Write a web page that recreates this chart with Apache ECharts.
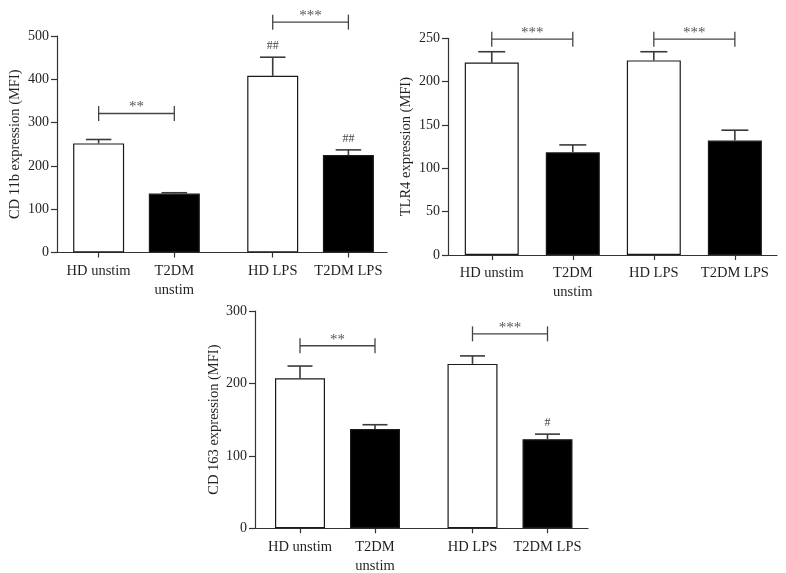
<!DOCTYPE html>
<html><head><meta charset="utf-8">
<script src="https://cdn.jsdelivr.net/npm/echarts@6/dist/echarts.min.js"></script>
<style>html,body{margin:0;padding:0;background:#fff}#c{width:786px;height:573px}</style>
</head><body><div id="c"></div>
<script>
// ---------- DATA ----------
const categories = ['HD unstim', 'T2DM\nunstim', 'HD LPS', 'T2DM LPS'];
const isDiabetic = [false, true, false, true];

// Panel A: CD 11b
const cd11bTitle = 'CD 11b expression (MFI)';
const cd11bMean = [252, 136, 408, 225];
const cd11bSem = [9, 2, 43, 12];
const cd11bHash = ['', '', '##', '##'];
const cd11bSigPairs = [[0, 1], [2, 3]];
const cd11bSigY = [321, 532];
const cd11bSigText = ['**', '***'];
const cd11bTicks = [0, 100, 200, 300, 400, 500];

// Panel B: TLR4
const tlr4Title = 'TLR4 expression (MFI)';
const tlr4Mean = [222, 118.5, 224.5, 132];
const tlr4Sem = [12.5, 8.5, 10, 12];
const tlr4Hash = ['', '', '', ''];
const tlr4SigPairs = [[0, 1], [2, 3]];
const tlr4SigY = [249, 249];
const tlr4SigText = ['***', '***'];
const tlr4Ticks = [0, 50, 100, 150, 200, 250];

// Panel C: CD 163
const cd163Title = 'CD 163 expression (MFI)';
const cd163Mean = [207, 137, 227, 123];
const cd163Sem = [17, 6, 11, 7];
const cd163Hash = ['', '', '', '#'];
const cd163SigPairs = [[0, 1], [2, 3]];
const cd163SigY = [252, 268.5];
const cd163SigText = ['**', '***'];
const cd163Ticks = [0, 100, 200, 300];

// ---------- LAYOUT ----------
const slotsGapped = [1, 2, 3.3, 4.3];
const slotsEven = [1, 2, 3, 4];
const FONT = '"Liberation Serif", "DejaVu Serif", serif';
const INK = '#231f20';
const LINE = '#333';

const panels = [
  {title: cd11bTitle, mean: cd11bMean, sem: cd11bSem, hash: cd11bHash, pairs: cd11bSigPairs, sigY: cd11bSigY, sigText: cd11bSigText, ticks: cd11bTicks,
   slots: slotsGapped, xmin: 0.45, xmax: 4.81, grid: {left: 57, top: 36, width: 330, height: 216.5}, barWidth: 51, nameGap: 34},
  {title: tlr4Title, mean: tlr4Mean, sem: tlr4Sem, hash: tlr4Hash, pairs: tlr4SigPairs, sigY: tlr4SigY, sigText: tlr4SigText, ticks: tlr4Ticks,
   slots: slotsEven, xmin: 0.46, xmax: 4.52, grid: {left: 448, top: 38.3, width: 329, height: 216.7}, barWidth: 54, nameGap: 34},
  {title: cd163Title, mean: cd163Mean, sem: cd163Sem, hash: cd163Hash, pairs: cd163SigPairs, sigY: cd163SigY, sigText: cd163SigText, ticks: cd163Ticks,
   slots: slotsGapped, xmin: 0.4, xmax: 4.84, grid: {left: 255, top: 311, width: 333, height: 217.3}, barWidth: 50, nameGap: 32}
];

const grids = [], xAxes = [], yAxes = [], series = [];

panels.forEach((p, i) => {
  grids.push(Object.assign({outerBoundsMode: 'none', containLabel: false}, p.grid));
  const ticks = p.ticks;
  xAxes.push({
    type: 'value', gridIndex: i, min: p.xmin, max: p.xmax,
    splitLine: {show: false},
    axisLine: {show: true, onZero: false, lineStyle: {color: LINE, width: 1.2}},
    axisTick: {show: true, customValues: p.slots, length: 5, lineStyle: {color: LINE, width: 1.2}},
    axisLabel: {
      show: true, customValues: p.slots, margin: 9, lineHeight: 19,
      fontFamily: FONT, fontSize: 14.5, color: INK,
      formatter: (v) => {
        let best = 0;
        p.slots.forEach((s, k) => { if (Math.abs(s - v) < Math.abs(p.slots[best] - v)) best = k; });
        return categories[best];
      }
    }
  });
  yAxes.push({
    type: 'value', gridIndex: i, min: ticks[0], max: ticks[ticks.length - 1],
    interval: ticks[1] - ticks[0],
    splitLine: {show: false},
    axisLine: {show: true, lineStyle: {color: LINE, width: 1.2}},
    axisTick: {show: true, length: 6, lineStyle: {color: LINE, width: 1.2}},
    axisLabel: {margin: 8, fontFamily: FONT, fontSize: 14, color: INK},
    name: p.title, nameLocation: 'middle', nameGap: p.nameGap,
    nameTextStyle: {fontFamily: FONT, fontSize: 14.5, color: INK}
  });

  // bars
  series.push({
    type: 'bar', xAxisIndex: i, yAxisIndex: i, barWidth: p.barWidth,
    animation: false, z: 2,
    itemStyle: {borderColor: '#1a1a1a', borderWidth: 1.2},
    data: p.mean.map((v, k) => ({value: [p.slots[k], v], itemStyle: {color: isDiabetic[k] ? '#000' : '#fff'}}))
  });

  // error bars (upper only) with # annotations
  const hashes = p.hash;
  const capHalf = p.barWidth / 4;
  series.push({
    type: 'custom', xAxisIndex: i, yAxisIndex: i, animation: false, clip: false, z: 3,
    data: p.mean.map((v, k) => [p.slots[k], v, p.sem[k]]),
    renderItem: (params, api) => {
      const x = api.value(0), m = api.value(1), e = api.value(2);
      const b = api.coord([x, m]);
      const t = api.coord([x, m + e]);
      const st = {stroke: '#3a3a3a', lineWidth: 1.6};
      const ch = [
        {type: 'line', shape: {x1: b[0], y1: b[1], x2: t[0], y2: t[1]}, style: st},
        {type: 'line', shape: {x1: t[0] - capHalf, y1: t[1], x2: t[0] + capHalf, y2: t[1]}, style: st}
      ];
      const h = hashes[params.dataIndex];
      if (h) {
        ch.push({type: 'text', x: t[0], y: t[1] - 11,
          style: {text: h, fill: '#444', font: '12px ' + FONT, align: 'center', verticalAlign: 'middle'}});
      }
      return {type: 'group', children: ch};
    }
  });

  // significance brackets
  const texts = p.sigText;
  series.push({
    type: 'custom', xAxisIndex: i, yAxisIndex: i, animation: false, clip: false, z: 3,
    data: p.pairs.map((pr, k) => [p.slots[pr[0]], p.slots[pr[1]], p.sigY[k]]),
    renderItem: (params, api) => {
      const a = api.coord([api.value(0), api.value(2)]);
      const b = api.coord([api.value(1), api.value(2)]);
      const st = {stroke: '#444', lineWidth: 1.3};
      const hh = 7.5;
      return {type: 'group', children: [
        {type: 'line', shape: {x1: a[0], y1: a[1], x2: b[0], y2: b[1]}, style: st},
        {type: 'line', shape: {x1: a[0], y1: a[1] - hh, x2: a[0], y2: a[1] + hh}, style: st},
        {type: 'line', shape: {x1: b[0], y1: b[1] - hh, x2: b[0], y2: b[1] + hh}, style: st},
        {type: 'text', x: (a[0] + b[0]) / 2, y: a[1] - 6,
          style: {text: texts[params.dataIndex], fill: '#555', font: '15px ' + FONT, align: 'center', verticalAlign: 'middle'}}
      ]};
    }
  });
});

const chart = echarts.init(document.getElementById('c'), null, {renderer: 'canvas'});
chart.setOption({
  backgroundColor: '#fff',
  animation: false,
  grid: grids,
  xAxis: xAxes,
  yAxis: yAxes,
  series: series
});
</script>
</body></html>
